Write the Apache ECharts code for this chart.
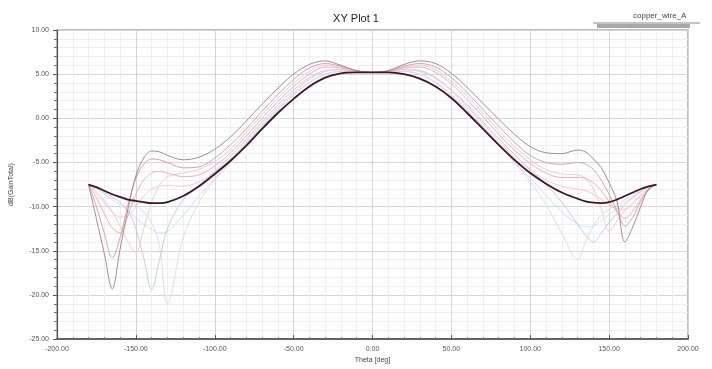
<!DOCTYPE html>
<html>
<head>
<meta charset="utf-8">
<script src="https://cdn.jsdelivr.net/npm/echarts@6/dist/echarts.min.js"></script>
<style>
  html, body { margin: 0; padding: 0; background: #fff; }
  #chart { width: 712px; height: 369px; }
</style>
</head>
<body>
<div id="chart"></div>
<script>
// theta samples (deg), denser near the back lobes
const theta = [-180, -175, -170, -165, -160, -155, -150, -145, -140, -135, -130,
  -120, -110, -100, -90, -80, -70, -60, -50, -40, -30, -20, -10, 0,
  10, 20, 30, 40, 50, 60, 70, 80, 90, 100, 110, 120,
  130, 135, 140, 145, 150, 155, 160, 165, 170, 175, 180];

const xTicks = [-200, -150, -100, -50, 0, 50, 100, 150, 200];
const yTicks = [-25, -20, -15, -10, -5, 0, 5, 10];

// dB(GainTotal) per sweep step
const gainMain = [-7.5, -7.8, -8.2, -8.6, -8.9, -9.2, -9.35, -9.5, -9.6, -9.6, -9.5,
  -8.8, -7.7, -6.3, -4.8, -3.1, -1.2, 0.6, 2.2, 3.6, 4.6, 5.1, 5.2, 5.2,
  5.2, 5.0, 4.5, 3.6, 2.3, 0.6, -1.2, -3.0, -4.7, -6.2, -7.4, -8.4,
  -9.1, -9.4, -9.55, -9.6, -9.5, -9.2, -8.8, -8.4, -8.0, -7.7, -7.5];
const gainOuter = [-7.5, -11.4, -15.3, -19.3, -14.8, -10.3, -6.5, -4.5, -3.7, -3.8, -4.2,
  -4.7, -4.4, -3.5, -2.1, -0.3, 1.6, 3.4, 5.0, 6.1, 6.5, 6.0, 5.4, 5.2,
  5.4, 6.1, 6.5, 6.2, 5.1, 3.5, 1.7, -0.1, -1.8, -3.2, -3.9, -4.0,
  -3.6, -3.8, -4.6, -5.6, -7.3, -9.4, -14.0, -12.3, -10.0, -8.0, -7.5];
const gainPinkA = [-7.5, -10.0, -13.0, -15.8, -13.5, -9.8, -6.8, -5.2, -4.6, -4.7, -5.0,
  -5.6, -5.5, -4.5, -3.0, -1.2, 0.8, 2.7, 4.4, 5.7, 6.2, 5.9, 5.4, 5.2,
  5.4, 5.9, 6.2, 5.8, 4.6, 2.9, 1.0, -0.9, -2.7, -4.2, -5.0, -5.2,
  -5.0, -5.2, -5.8, -7.0, -8.6, -10.5, -12.2, -11.2, -9.4, -8.1, -7.5];
const gainPinkB = [-7.5, -9.0, -10.8, -12.4, -13.0, -11.0, -8.6, -7.0, -6.2, -6.0, -6.2,
  -6.6, -6.4, -5.4, -3.9, -2.0, 0.0, 1.9, 3.6, 5.0, 5.8, 5.7, 5.3, 5.2,
  5.3, 5.7, 5.8, 5.2, 3.9, 2.1, 0.2, -1.8, -3.6, -5.1, -6.2, -6.7,
  -6.7, -6.8, -7.3, -8.2, -9.4, -10.6, -11.3, -10.5, -9.2, -8.1, -7.5];
const gainPinkC = [-7.5, -8.5, -9.6, -10.6, -11.2, -11.0, -10.0, -8.8, -8.0, -7.7, -7.6,
  -7.7, -7.2, -6.1, -4.6, -2.7, -0.7, 1.2, 2.9, 4.4, 5.3, 5.5, 5.3, 5.2,
  5.3, 5.5, 5.3, 4.5, 3.1, 1.3, -0.6, -2.6, -4.4, -5.9, -7.0, -7.7,
  -8.0, -8.2, -8.6, -9.2, -9.8, -10.2, -10.3, -9.7, -8.8, -8.0, -7.5];
const gainPinkD = [-7.5, -8.3, -9.3, -10.6, -12.2, -14.0, -15.2, -12.5, -9.5, -7.6, -6.6,
  -6.2, -5.8, -4.9, -3.5, -1.6, 0.4, 2.3, 4.0, 5.3, 6.0, 5.8, 5.35, 5.2,
  5.35, 5.8, 6.0, 5.5, 4.2, 2.5, 0.6, -1.4, -3.2, -4.7, -5.8, -6.3,
  -6.4, -6.8, -8.0, -10.2, -12.8, -11.6, -10.4, -9.5, -8.7, -8.0, -7.5];
const gainBlueA = [-7.5, -7.9, -8.4, -8.9, -9.5, -10.5, -12.5, -15.8, -19.4, -16.0, -12.5,
  -9.2, -7.6, -6.0, -4.3, -2.4, -0.4, 1.5, 3.2, 4.6, 5.4, 5.5, 5.3, 5.2,
  5.3, 5.5, 5.4, 4.6, 3.2, 1.5, -0.4, -2.3, -4.1, -5.8, -7.5, -9.5,
  -12.0, -13.2, -14.0, -13.0, -11.8, -10.8, -9.8, -9.0, -8.3, -7.8, -7.5];
const gainBlueB = [-7.5, -7.8, -8.2, -8.6, -9.0, -9.4, -9.9, -10.6, -11.8, -14.5, -21.0,
  -13.5, -9.5, -7.0, -5.0, -3.0, -1.0, 0.9, 2.6, 4.0, 5.0, 5.3, 5.25, 5.2,
  5.25, 5.3, 5.0, 4.0, 2.6, 0.9, -1.0, -3.0, -5.0, -7.2, -9.8, -13.0,
  -16.0, -14.0, -12.2, -11.0, -10.3, -9.8, -9.2, -8.7, -8.2, -7.8, -7.5];
const gainBlueC = [-7.5, -8.0, -8.6, -9.2, -9.8, -10.5, -11.3, -12.0, -12.6, -13.0, -12.8,
  -11.0, -8.8, -6.8, -4.9, -2.9, -0.9, 1.0, 2.7, 4.1, 5.0, 5.3, 5.2, 5.2,
  5.2, 5.3, 5.0, 4.1, 2.7, 1.0, -0.9, -2.9, -4.9, -6.8, -8.7, -10.6,
  -12.0, -12.3, -12.2, -11.6, -10.9, -10.2, -9.5, -8.9, -8.3, -7.8, -7.5];

const curves = [
  { values: gainBlueB, color: '#e0dae8', width: 1 },
  { values: gainBlueC, color: '#d2ddf0', width: 1 },
  { values: gainBlueA, color: '#c8cbe0', width: 1 },
  { values: gainPinkC, color: '#efcad2', width: 1 },
  { values: gainPinkD, color: '#eccdd4', width: 1 },
  { values: gainPinkB, color: '#e4b2be', width: 1 },
  { values: gainPinkA, color: '#d6a2ae', width: 1 },
  { values: gainOuter, color: '#a08c92', width: 1 },
  { values: gainMain, color: '#3e1622', width: 1.8 },
];

const chart = echarts.init(document.getElementById('chart'));
const font = 'Liberation Sans, Arial, sans-serif';

const option = {
  animation: false,
  backgroundColor: '#fff',
  title: {
    text: 'XY Plot 1',
    left: 'center',
    top: 8,
    textStyle: { fontFamily: font, fontSize: 11, fontWeight: 'normal', color: '#222' },
  },
  grid: {
    left: 55,
    right: 24,
    top: 30,
    bottom: 26,
    show: true,
    borderColor: '#a8a8a8',
    borderWidth: 1.5,
  },
  xAxis: {
    type: 'value',
    min: xTicks[0],
    max: xTicks[xTicks.length - 1],
    interval: 50,
    name: 'Theta [deg]',
    nameLocation: 'middle',
    nameGap: 17,
    nameTextStyle: { fontFamily: font, fontSize: 7, color: '#444' },
    axisLine: { onZero: false, lineStyle: { color: '#444', width: 1.5 } },
    axisTick: { inside: true, length: 4, lineStyle: { color: '#555' } },
    minorTick: { show: true, splitNumber: 5, length: 2, lineStyle: { color: '#777' } },
    axisLabel: {
      fontFamily: font, fontSize: 7, color: '#555', margin: 6,
      formatter: (v) => v.toFixed(2),
    },
    splitLine: { lineStyle: { color: '#d4d4d4' } },
    minorSplitLine: { show: true, lineStyle: { color: '#efefef' } },
  },
  yAxis: {
    type: 'value',
    min: yTicks[0],
    max: yTicks[yTicks.length - 1],
    interval: 5,
    name: 'dB(GainTotal)',
    nameLocation: 'middle',
    nameGap: 42,
    nameTextStyle: { fontFamily: font, fontSize: 7, color: '#444' },
    axisLine: { onZero: false, lineStyle: { color: '#555', width: 1.2 } },
    axisTick: { length: 4, lineStyle: { color: '#555' } },
    minorTick: { show: true, splitNumber: 5, length: 3, lineStyle: { color: '#666' } },
    axisLabel: {
      fontFamily: font, fontSize: 7, color: '#555', margin: 8,
      formatter: (v) => v.toFixed(2),
    },
    splitLine: { lineStyle: { color: '#d4d4d4' } },
    minorSplitLine: { show: true, lineStyle: { color: '#efefef' } },
  },
  graphic: [
    { type: 'line', shape: { x1: 593, y1: 23, x2: 700, y2: 23 }, style: { stroke: '#888', lineWidth: 1 } },
    { type: 'rect', shape: { x: 597, y: 24, width: 93, height: 4 }, style: { fill: '#a8a8a8' } },
    {
      type: 'text', left: 633, top: 12,
      style: { text: 'copper_wire_A', fontFamily: font, fontSize: 8, fill: '#444' },
    },
  ],
  series: curves.map((c) => ({
    type: 'line',
    data: theta.map((t, i) => [t, c.values[i]]),
    showSymbol: false,
    smooth: 0.35,
    lineStyle: { color: c.color, width: c.width },
    itemStyle: { color: c.color },
    silent: true,
  })),
};

chart.setOption(option);
</script>
</body>
</html>
